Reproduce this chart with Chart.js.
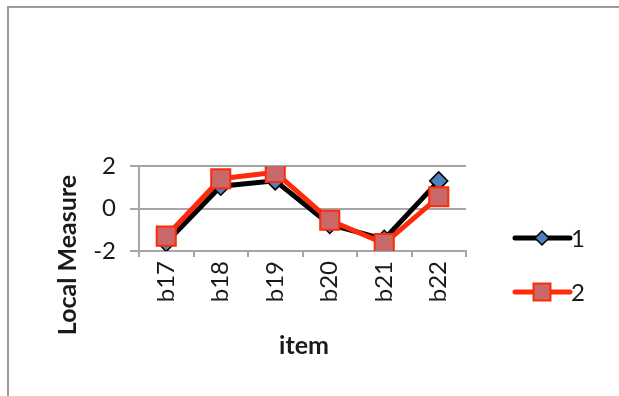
<!DOCTYPE html>
<html>
<head>
<meta charset="utf-8">
<script src="https://cdn.jsdelivr.net/npm/chart.js@4.4.1/dist/chart.umd.min.js"></script>
<style>
  html, body { margin: 0; padding: 0; background: #fff; }
  #wrap { position: relative; width: 619px; height: 396px; overflow: hidden; }
  #frame { position: absolute; left: 7px; top: 6px; width: 700px; height: 500px;
           border-left: 2px solid #9b9b9b; border-top: 2px solid #9b9b9b; }
  #chart { position: absolute; left: 0; top: 0; }
</style>
</head>
<body>
<div id="wrap">
  <div id="frame"></div>
  <canvas id="chart" width="619" height="396"></canvas>
</div>
<script>
(function() {
  'use strict';

  // datos
  const items = ['b17', 'b18', 'b19', 'b20', 'b21', 'b22'];
  const serie1 = [-1.6, 1.05, 1.3, -0.75, -1.45, 1.3];
  const serie2 = [-1.3, 1.4, 1.7, -0.55, -1.65, 0.55];
  const yTicks = [-2, 0, 2];
  const seriesNames = ['1', '2'];
  const xTitle = 'item';
  const yTitle = 'Local Measure';

  const FONT = 'Lato, "Open Sans", sans-serif';
  const TEXT = '#1a1a1a';
  const GRID = '#a6a6a6';

  // titulos de ejes y leyenda dibujados a mano
  const extras = {
    id: 'extras',
    afterDraw(chart) {
      const ctx = chart.ctx;
      ctx.save();
      ctx.fillStyle = TEXT;
      ctx.font = 'bold 25px ' + FONT;
      ctx.textAlign = 'center';
      ctx.textBaseline = 'middle';
      ctx.fillText(xTitle, 304, 346);
      ctx.translate(68, 255);
      ctx.rotate(-Math.PI / 2);
      ctx.fillText(yTitle, 0, 0);
      ctx.restore();

      // leyenda: linea + marcador
      const rows = [238, 292];
      const sizes = [7, 12];
      chart.data.datasets.forEach((ds, i) => {
        const y = rows[i];
        const r = sizes[i];
        ctx.save();
        ctx.strokeStyle = ds.borderColor;
        ctx.lineWidth = ds.borderWidth;
        ctx.lineCap = 'round';
        ctx.beginPath();
        ctx.moveTo(515, y);
        ctx.lineTo(570, y);
        ctx.stroke();
        ctx.fillStyle = ds.pointBackgroundColor;
        ctx.strokeStyle = ds.pointBorderColor;
        ctx.lineWidth = ds.pointBorderWidth;
        ctx.beginPath();
        if (ds.pointStyle === 'rect') {
          const s = Math.SQRT1_2 * r;
          ctx.rect(542 - s, y - s, 2 * s, 2 * s);
        } else {
          ctx.moveTo(542 - r, y); ctx.lineTo(542, y - r);
          ctx.lineTo(542 + r, y); ctx.lineTo(542, y + r);
          ctx.closePath();
        }
        ctx.fill();
        ctx.stroke();
        ctx.fillStyle = TEXT;
        ctx.font = '24px ' + FONT;
        ctx.textAlign = 'left';
        ctx.textBaseline = 'middle';
        ctx.fillText(ds.label, 571, y + 1);
        ctx.restore();
      });
    }
  };

  const canvas = document.getElementById('chart');
  new Chart(canvas.getContext('2d'), {
    type: 'line',
    data: {
      labels: items,
      datasets: [{
        label: seriesNames[0],
        data: serie1,
        borderColor: '#000000',
        borderWidth: 5,
        pointStyle: 'rectRot',
        pointRadius: 9,
        pointBackgroundColor: '#4f81bd',
        pointBorderColor: '#000000',
        pointBorderWidth: 1.5,
        tension: 0,
        order: 1
      }, {
        label: seriesNames[1],
        data: serie2,
        borderColor: '#ff2a0a',
        borderWidth: 5,
        pointStyle: 'rect',
        pointRadius: 13.5,
        pointBackgroundColor: '#c96868',
        pointBorderColor: '#ff2a0a',
        pointBorderWidth: 2,
        tension: 0,
        order: 0
      }]
    },
    options: {
      responsive: false,
      animation: false,
      layout: {
        padding: { left: 80, top: 166, right: 153, bottom: 75 }
      },
      plugins: {
        legend: { display: false },
        tooltip: { enabled: false }
      },
      scales: {
        x: {
          offset: true,
          afterFit: (s) => { s.height = 70; },
          grid: {
            offset: true,
            drawOnChartArea: false,
            drawTicks: true,
            tickLength: 6,
            color: GRID,
            lineWidth: 2
          },
          border: { color: GRID, width: 2 },
          ticks: {
            color: TEXT,
            font: { family: FONT, size: 24 },
            minRotation: 90,
            maxRotation: 90,
            padding: 4,
            autoSkip: false
          }
        },
        y: {
          min: -2,
          max: 2,
          afterFit: (s) => { s.width = 59; },
          afterBuildTicks: (s) => { s.ticks = yTicks.map(v => ({ value: v })); },
          grid: {
            color: GRID,
            lineWidth: 2,
            tickLength: 9
          },
          border: { color: GRID, width: 2 },
          ticks: {
            color: TEXT,
            font: { family: FONT, size: 24 },
            padding: 14
          }
        }
      }
    },
    plugins: [extras]
  });
})();
</script>
</body>
</html>
